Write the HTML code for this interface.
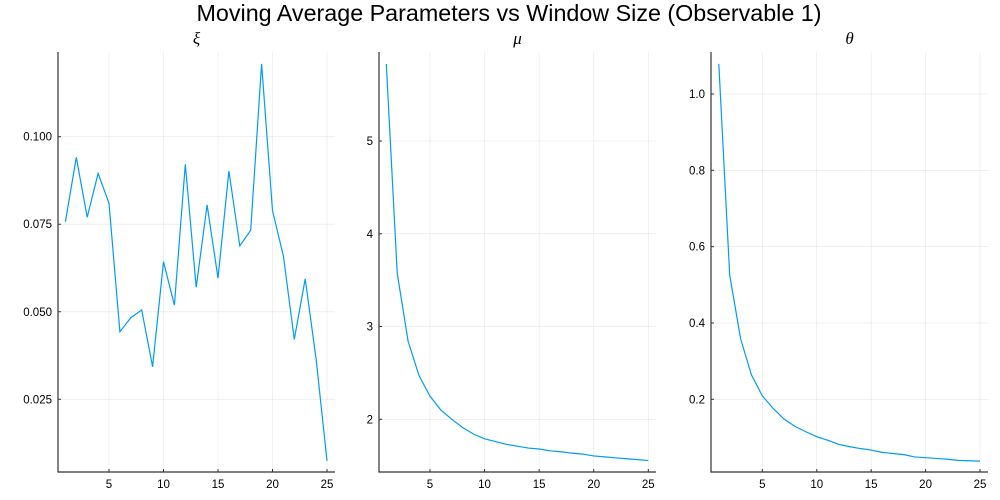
<!DOCTYPE html>
<html><head><meta charset="utf-8"><style>
body{margin:0;background:#fff}
svg{display:block;font-family:"Liberation Sans",sans-serif}
</style></head><body>
<svg id="chart" width="1000" height="500">
<text x="509" y="21" font-size="23.3" text-anchor="middle" fill="#000">Moving Average Parameters vs Window Size (Observable 1)</text>
</svg>
<script>
const windowSizes=[1,2,3,4,5,6,7,8,9,10,11,12,13,14,15,16,17,18,19,20,21,22,23,24,25];
const xiValues=[0.0757,0.0941,0.0770,0.0895,0.0810,0.0443,0.0483,0.0505,0.0343,0.0643,0.0519,0.0921,0.0570,0.0805,0.0596,0.0902,0.0688,0.0733,0.1208,0.0789,0.0659,0.0421,0.0594,0.0365,0.0074];
const muValues=[5.83,3.575,2.84,2.47,2.25,2.10,2.0,1.91,1.84,1.79,1.76,1.73,1.71,1.69,1.68,1.66,1.65,1.635,1.625,1.605,1.595,1.585,1.575,1.565,1.555];
const thetaValues=[1.079,0.526,0.359,0.264,0.209,0.176,0.148,0.129,0.115,0.102,0.093,0.082,0.076,0.071,0.067,0.061,0.058,0.055,0.049,0.047,0.045,0.043,0.040,0.039,0.038];
const xTicks=[5,10,15,20,25];
const xiTicks=[0.025,0.050,0.075,0.100];
const muTicks=[2,3,4,5];
const thetaTicks=[0.2,0.4,0.6,0.8,1.0];

const NS="http://www.w3.org/2000/svg";
const svg=document.getElementById('chart');
function mk(tag,attrs,parent){const e=document.createElementNS(NS,tag);for(const k in attrs)e.setAttribute(k,attrs[k]);(parent||svg).appendChild(e);return e;}

const panels=[
 {key:'xi',title:'ξ',vals:xiValues,ticks:xiTicks,dec:3,left:58,right:335,x1px:65.4,x25px:327,vRef1:0.100,y1:136.7,vRef2:0.025,y2:399.3},
 {key:'mu',title:'μ',vals:muValues,ticks:muTicks,dec:0,left:379,right:656,x1px:386.3,x25px:648.3,vRef1:5,y1:141,vRef2:2,y2:419.3},
 {key:'theta',title:'θ',vals:thetaValues,ticks:thetaTicks,dec:1,left:711,right:988,x1px:718.8,x25px:980,vRef1:1.0,y1:94,vRef2:0.2,y2:399.3}
];
const plotTop=52,plotBottom=472;
panels.forEach(p=>{
  const g=mk('g',{});
  
  
  const xs=v=>p.x1px+(v-1)*(p.x25px-p.x1px)/24;
  const ys=v=>p.y1+(v-p.vRef1)*(p.y2-p.y1)/(p.vRef2-p.vRef1);
  xTicks.forEach(t=>{
    const l=mk('line',{x1:xs(t),x2:xs(t),y1:plotTop,y2:plotBottom,stroke:'#000','stroke-opacity':0.1,'stroke-width':0.6},g);
    
    
    const tk=mk('line',{x1:xs(t),x2:xs(t),y1:plotBottom,y2:plotBottom-3,stroke:'#333'},g);
    
    
    const tx=mk('text',{x:xs(t),y:plotBottom+16,'font-size':11.5,'text-anchor':'middle',fill:'#000'},g);
    tx.textContent=t;
    
    
  });
  p.ticks.forEach(t=>{
    const l=mk('line',{x1:p.left,x2:p.right,y1:ys(t),y2:ys(t),stroke:'#000','stroke-opacity':0.1,'stroke-width':0.6},g);
    
    
    const tk=mk('line',{x1:p.left,x2:p.left+3,y1:ys(t),y2:ys(t),stroke:'#333'},g);
    
    
    const tx=mk('text',{x:p.left-6,y:ys(t)+4,'font-size':11.5,'text-anchor':'end',fill:'#000'},g);
    tx.textContent=t.toFixed(p.dec);
    
    
  });
  const ax=mk('path',{d:`M${p.left},${plotTop}V${plotBottom}H${p.right}`,fill:'none',stroke:'#333','stroke-width':1.2},g);
  
  
  const d=p.vals.map((v,i)=>(i?'L':'M')+xs(windowSizes[i]).toFixed(2)+','+ys(v).toFixed(2)).join('');
  const ln=mk('path',{d:d,fill:'none',stroke:'#009af9','stroke-width':1.2},g);
  
  
  const tt=mk('text',{x:(p.left+p.right)/2,y:44,'font-size':17,'font-style':'italic','text-anchor':'middle','font-family':'"Liberation Serif",serif',fill:'#000'},g);
  tt.textContent=p.title;
  
  
});
</script>
</body></html>
